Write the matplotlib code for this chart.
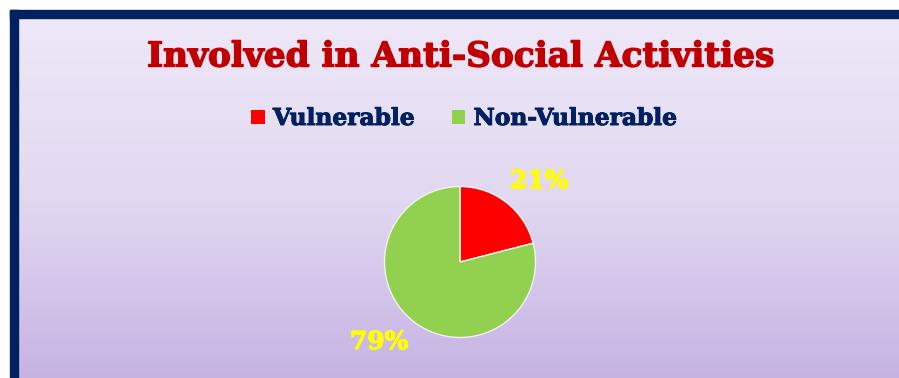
import numpy as np
import matplotlib
matplotlib.use("Agg")
import matplotlib.pyplot as plt
import matplotlib.patheffects as pe
from matplotlib.patches import Rectangle, Patch
from matplotlib.colors import LinearSegmentedColormap

# Chart data
categories = ["Vulnerable", "Non-Vulnerable"]
shares = [21, 79]
slice_colors = ["#FF0000", "#92D050"]
title_text = "Involved in Anti-Social Activities"

W, H = 899, 378
fig = plt.figure(figsize=(W / 100, H / 100), dpi=100)
fig.patch.set_facecolor("white")


def heavy(color, lw=0.8):
    # thicken the bold serif strokes a little
    return [pe.withStroke(linewidth=lw, foreground=color)]


# Background panel with vertical lavender gradient
bg = fig.add_axes([0, 0, 1, 1])
bg.set_xlim(0, W)
bg.set_ylim(H, 0)
bg.axis("off")
grad = LinearSegmentedColormap.from_list("lav", ["#EEE8F8", "#E2D8F1", "#C5B2E3"])
g = np.linspace(0, 1, 256).reshape(-1, 1)
bg.imshow(g, cmap=grad, extent=(14, W + 5, H + 5, 14), aspect="auto", zorder=0)

# Frame (top and left edges visible)
navy = "#002060"
bg.add_patch(Rectangle((10, 10), W + 20, 8, color=navy, zorder=2))
bg.add_patch(Rectangle((10, 10), 7.5, H + 20, color=navy, zorder=2))

# Title
fig.text(460 / W, 1 - 57 / H, title_text, ha="center", va="center",
         fontsize=24.7, fontweight="bold", family="DejaVu Serif", color="#C00000",
         path_effects=heavy("#C00000", 1.0))

# Legend
handles = [Patch(facecolor=c, edgecolor="none") for c in slice_colors]
leg = fig.legend(handles, categories, loc="center", bbox_to_anchor=(464 / W, 1 - 119 / H),
                 ncol=2, frameon=False, handlelength=0.58, handleheight=0.58,
                 handletextpad=0.35, columnspacing=1.6,
                 prop={"family": "DejaVu Serif", "weight": "bold", "size": 16.8})
for t in leg.get_texts():
    t.set_color(navy)
    t.set_path_effects(heavy(navy, 0.7))

# Pie
cx, cy, R = 460, 262, 75.5
ax = fig.add_axes([(cx - R) / W, (H - cy - R) / H, 2 * R / W, 2 * R / H])
ax.pie(shares, colors=slice_colors, startangle=90, counterclock=False, radius=1,
       wedgeprops=dict(edgecolor="#F2F2F2", linewidth=1.0))
ax.set_xlim(-1, 1)
ax.set_ylim(-1, 1)
ax.set_aspect("auto")
ax.axis("off")

label_pos = [(1.05, 1.07), (-1.07, -1.06)]
for v, (x, y) in zip(shares, label_pos):
    ax.text(x, y, f"{v}%", ha="center", va="center", fontsize=18,
            fontweight="bold", family="DejaVu Serif", color="#FFFF00", clip_on=False,
            path_effects=heavy("#FFFF00", 0.8))

fig.savefig("out.png", dpi=100)
